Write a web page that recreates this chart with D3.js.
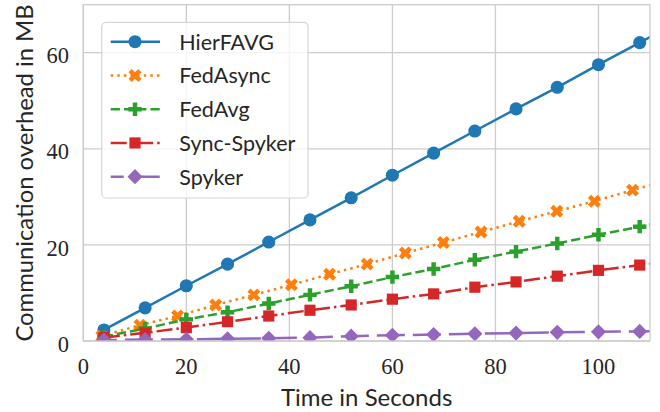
<!DOCTYPE html>
<html>
<head>
<meta charset="utf-8">
<script src="https://cdn.jsdelivr.net/npm/d3@7"></script>
<style>
  html, body { margin: 0; padding: 0; background: #fff; }
  svg { display: block; }
</style>
</head>
<body>
<div id="chart"></div>
<script>
// Data
var series_names = ['HierFAVG', 'FedAsync', 'FedAvg', 'Sync-Spyker', 'Spyker'];
var time_sync  = [4, 12, 20, 28, 36, 44, 52, 60, 68, 76, 84, 92, 100, 108, 116];
var time_async = [3.6, 11.0, 18.3, 25.7, 33.1, 40.4, 47.8, 55.1, 62.5, 69.9, 77.2, 84.6, 91.9, 99.2, 106.6, 114.0];
var hierfavg    = [2.3, 6.9, 11.5, 16.0, 20.6, 25.2, 29.8, 34.5, 39.1, 43.7, 48.3, 52.8, 57.5, 62.1, 66.7];
var fedasync    = [1.0, 3.3, 5.2, 7.5, 9.6, 11.7, 13.9, 16.0, 18.3, 20.5, 22.7, 24.9, 27.0, 29.1, 31.4, 33.6];
var fedavg      = [0.9, 2.6, 4.5, 6.0, 7.8, 9.6, 11.4, 13.3, 15.0, 16.9, 18.6, 20.3, 22.1, 23.8, 25.6];
var sync_spyker = [0.7, 1.7, 2.8, 4.0, 5.2, 6.4, 7.5, 8.7, 9.8, 11.2, 12.3, 13.5, 14.7, 15.8, 16.9];
var spyker      = [0.2, 0.3, 0.35, 0.45, 0.55, 0.7, 1.0, 1.2, 1.35, 1.5, 1.65, 1.8, 1.9, 2.0, 2.1];
var x_ticks = [0, 20, 40, 60, 80, 100];
var y_ticks = [0, 20, 40, 60];

var chart_width  = 660;
var chart_height = 412;
var text_color = '#262626';
var grid_color = '#cccccc';

var x = d3.scaleLinear().domain([0, 110]).range([83.3, 650]);
var y = d3.scaleLinear().domain([0, 70]).range([341, 4.65]);

function zip(xs, ys) {
    return ys.map(function(v, i){ return [xs[i], v]; });
}

// style per series (matplotlib-ish dashes for lw 2.5)
var series = [
    { name: series_names[0], points: zip(time_sync, hierfavg),    color: '#1f77b4', dash: null,         offset: 0,  symbol: d3.symbolCircle, size: 135, rotate: 0 },
    { name: series_names[1], points: zip(time_async, fedasync),   color: '#ff7f0e', dash: '2.5,4.1',    offset: 0,  symbol: d3.symbolCross,  size: 105, rotate: 45 },
    { name: series_names[2], points: zip(time_sync, fedavg),      color: '#2ca02c', dash: '9.25,4',     offset: 0,  symbol: d3.symbolCross,  size: 100, rotate: 0 },
    { name: series_names[3], points: zip(time_sync, sync_spyker), color: '#d62728', dash: '16,4,2.5,4', offset: 0,  symbol: d3.symbolSquare, size: 125, rotate: 0 },
    { name: series_names[4], points: zip(time_sync, spyker),      color: '#9467bd', dash: '28,8',       offset: 15, symbol: d3.symbolSquare, size: 115, rotate: 45 }
];

var svg = d3.select('#chart')
    .append('svg')
    .attr('width', chart_width)
    .attr('height', chart_height);

svg.append('defs').append('clipPath')
    .attr('id', 'plot_clip')
    .append('rect')
    .attr('x', x(0))
    .attr('y', y(70))
    .attr('width', x(110) - x(0))
    .attr('height', y(0) - y(70));

// grid
var grid = svg.append('g');
grid.selectAll('line.gx')
    .data(x_ticks)
    .enter()
    .append('line')
    .attr('x1', function(d){ return x(d); })
    .attr('x2', function(d){ return x(d); })
    .attr('y1', y(0))
    .attr('y2', y(70))
    .attr('stroke', grid_color)
    .attr('stroke-width', 1.3);
grid.selectAll('line.gy')
    .data(y_ticks)
    .enter()
    .append('line')
    .attr('x1', x(0))
    .attr('x2', x(110))
    .attr('y1', function(d){ return y(d); })
    .attr('y2', function(d){ return y(d); })
    .attr('stroke', grid_color)
    .attr('stroke-width', 1.3);

// tick labels
svg.selectAll('text.xt')
    .data(x_ticks)
    .enter()
    .append('text')
    .attr('x', function(d){ return x(d); })
    .attr('y', 374)
    .attr('text-anchor', 'middle')
    .attr('font-family', 'Liberation Serif, serif')
    .attr('font-size', 22.5)
    .attr('fill', text_color)
    .text(function(d){ return d; });

svg.selectAll('text.yt')
    .data(y_ticks)
    .enter()
    .append('text')
    .attr('x', 69)
    .attr('y', function(d){ return y(d) + 10.6; })
    .attr('text-anchor', 'end')
    .attr('font-family', 'Liberation Serif, serif')
    .attr('font-size', 22.5)
    .attr('fill', text_color)
    .text(function(d){ return d; });

// axis labels
svg.append('text')
    .attr('x', (x(0) + x(110)) / 2)
    .attr('y', 406)
    .attr('text-anchor', 'middle')
    .attr('font-family', 'Lato, sans-serif')
    .attr('font-size', 24)
    .attr('fill', text_color)
    .text('Time in Seconds');

svg.append('text')
    .attr('transform', 'translate(33,173) rotate(-90)')
    .attr('text-anchor', 'middle')
    .attr('font-family', 'Lato, sans-serif')
    .attr('font-size', 23.8)
    .attr('fill', text_color)
    .text('Communication overhead in MB');

// lines and markers
var line = d3.line()
    .x(function(d){ return x(d[0]); })
    .y(function(d){ return y(d[1]); });

var plot = svg.append('g').attr('clip-path', 'url(#plot_clip)');

series.forEach(function(s){
    var g = plot.append('g');
    g.append('path')
        .attr('d', line(s.points))
        .attr('fill', 'none')
        .attr('stroke', s.color)
        .attr('stroke-width', 2.5)
        .attr('stroke-dasharray', s.dash)
        .attr('stroke-dashoffset', s.offset);
    g.selectAll('path.m')
        .data(s.points)
        .enter()
        .append('path')
        .attr('d', d3.symbol().type(s.symbol).size(s.size))
        .attr('transform', function(d){
            return 'translate(' + x(d[0]) + ',' + y(d[1]) + ') rotate(' + s.rotate + ')';
        })
        .attr('fill', s.color);
});

// frame
svg.append('rect')
    .attr('x', x(0))
    .attr('y', y(70))
    .attr('width', x(110) - x(0))
    .attr('height', y(0) - y(70))
    .attr('fill', 'none')
    .attr('stroke', grid_color)
    .attr('stroke-width', 1.3);

// legend
var legend = svg.append('g');
legend.append('rect')
    .attr('x', 101.7)
    .attr('y', 22.3)
    .attr('width', 206.3)
    .attr('height', 175.7)
    .attr('rx', 4.5)
    .attr('fill', '#ffffff')
    .attr('fill-opacity', 0.8)
    .attr('stroke', '#d6d6d6')
    .attr('stroke-width', 1.2);

series.forEach(function(s, i){
    var row_y = 41.7 + i * 33.75;
    var item = legend.append('g');
    item.append('line')
        .attr('x1', 110.7)
        .attr('x2', 160)
        .attr('y1', row_y)
        .attr('y2', row_y)
        .attr('stroke', s.color)
        .attr('stroke-width', 2.5)
        .attr('stroke-dasharray', s.dash)
        .attr('stroke-dashoffset', s.offset);
    item.append('path')
        .attr('d', d3.symbol().type(s.symbol).size(s.size))
        .attr('transform', 'translate(135,' + row_y + ') rotate(' + s.rotate + ')')
        .attr('fill', s.color);
    item.append('text')
        .attr('x', 179.3)
        .attr('y', row_y + 7.8)
        .attr('font-family', 'Lato, sans-serif')
        .attr('font-size', 21.5)
        .attr('fill', text_color)
        .text(s.name);
});
</script>
</body>
</html>
